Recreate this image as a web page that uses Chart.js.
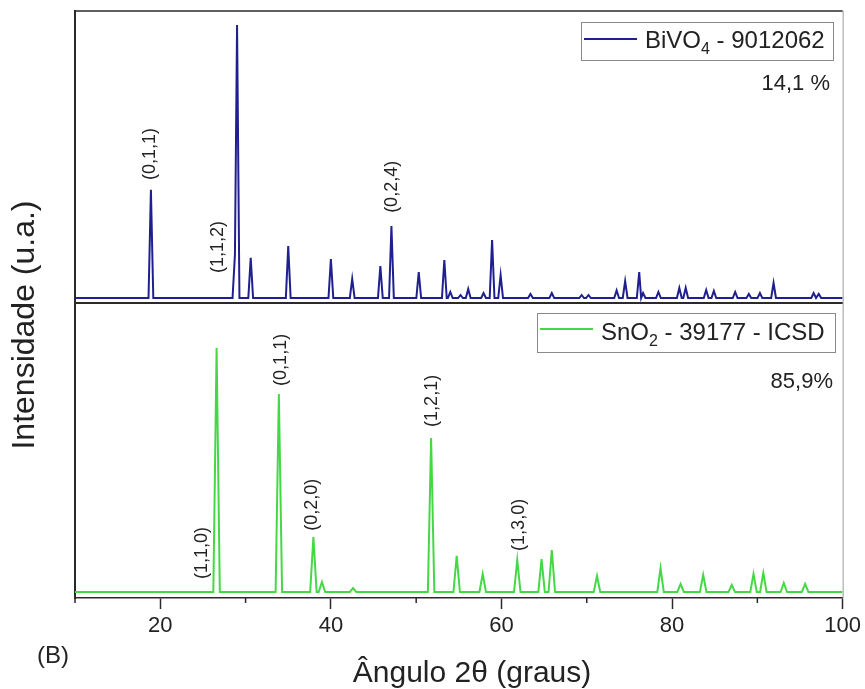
<!DOCTYPE html>
<html>
<head>
<meta charset="utf-8">
<script src="https://cdn.jsdelivr.net/npm/chart.js@4.4.1/dist/chart.umd.min.js"></script>
<style>
  html, body { margin: 0; padding: 0; background: #fff; }
</style>
</head>
<body>
<canvas id="xrdChart" width="865" height="689"></canvas>
<script>
// BiVO4 reference pattern (2theta, relative intensity)
const bivoPos = [18.9, 28.75, 29.0, 30.6, 35.0, 40.0, 42.5, 45.8, 47.1, 50.3, 53.3, 54.0, 55.2, 56.1, 57.9,
                 58.9, 59.9, 63.4, 65.9, 69.4, 70.2, 73.5, 74.5, 76.15, 76.6, 78.4, 80.85, 81.6, 84.0, 84.9,
                 87.4, 89.0, 90.3, 91.9, 96.6, 97.2];
const bivoInt = [39.6, 15.8, 100, 14.7, 19.0, 14.3, 7.0, 11.7, 26.4, 9.5, 13.9, 2.2, 1.1, 3.3, 1.8,
                 21.2, 8.4, 1.5, 1.8, 1.1, 1.1, 2.8, 6.2, 9.5, 1.8, 2.2, 3.7, 3.7, 2.9, 2.6,
                 2.2, 1.5, 1.8, 5.5, 1.8, 1.5];

// SnO2 reference pattern
const snoPos = [26.6, 33.9, 37.95, 38.95, 42.6, 51.75, 54.75, 57.8, 61.85, 64.7, 65.9, 71.2, 78.65, 81.0,
                83.65, 87.0, 89.55, 90.7, 93.1, 95.6];
const snoInt = [100, 81.1, 22.5, 4.1, 1.6, 63.1, 14.8, 7.4, 13.1, 13.5, 17.2, 6.6, 9.8, 3.3,
                7.0, 2.9, 7.4, 7.8, 3.7, 3.3];

// hkl labels: text, 2theta, intensity where the label is centred
const bivoHkl = ['(0,1,1)', '(1,1,2)', '(0,2,4)'];
const bivoHklAt = [[18.83, 52.7], [26.8, 18.7], [47.2, 40.7]];
const snoHkl = ['(1,1,0)', '(0,1,1)', '(0,2,0)', '(1,2,1)', '(1,3,0)'];
const snoHklAt = [[24.9, 16.0], [34.2, 95.1], [37.8, 35.7], [51.9, 78.3], [62.1, 27.5]];

const xMin = 10, xMax = 100;
const FONT = '"Liberation Sans", Arial, sans-serif';

// peaks closer than this are drawn as one peak with a shoulder
const mergeGap = 0.3;

function profile(pos, inten, hw) {
    const pts = [{x: xMin, y: 0}];
    pos.forEach((p, i) => {
        const gapL = i > 0 ? p - pos[i - 1] : Infinity;
        const gapR = i < pos.length - 1 ? pos[i + 1] - p : Infinity;
        if (gapL >= mergeGap) pts.push({x: p - Math.min(hw, gapL / 2), y: 0});
        pts.push({x: p, y: inten[i]});
        if (gapR >= mergeGap) pts.push({x: p + Math.min(hw, gapR / 2), y: 0});
    });
    pts.push({x: xMax, y: 0});
    return pts;
}

function drawSubText(ctx, x, y, parts) {
    // parts: [text, isSub]
    parts.forEach(([t, sub]) => {
        ctx.font = (sub ? '16px ' : '24px ') + FONT;
        ctx.fillText(t, x, sub ? y + 6 : y);
        x += ctx.measureText(t).width;
    });
}

const decorations = {
    id: 'decorations',
    afterDraw(chart) {
        const ctx = chart.ctx;
        const area = chart.chartArea;
        const xs = chart.scales.x, yt = chart.scales.yTop, yb = chart.scales.yBot;
        ctx.save();

        // frame
        ctx.strokeStyle = '#9a9a9a';
        ctx.lineWidth = 1;
        ctx.beginPath();
        ctx.moveTo(area.right + 0.5, area.top);
        ctx.lineTo(area.right + 0.5, area.bottom);
        ctx.stroke();
        ctx.strokeStyle = '#2a2a2a';
        ctx.lineWidth = 1.5;
        ctx.beginPath();
        ctx.moveTo(area.left, area.top);
        ctx.lineTo(area.right, area.top);
        ctx.stroke();
        ctx.lineWidth = 2;
        ctx.beginPath();
        ctx.moveTo(area.left, yt.bottom);
        ctx.lineTo(area.right, yt.bottom);
        ctx.stroke();

        // minor ticks
        ctx.lineWidth = 1.5;
        ctx.beginPath();
        xs.ticks.forEach(t => {
            if (t.value % 20 !== 0) {
                const px = xs.getPixelForValue(t.value);
                ctx.moveTo(px, area.bottom);
                ctx.lineTo(px, area.bottom + 5);
            }
        });
        ctx.stroke();

        // hkl labels
        ctx.fillStyle = '#222';
        ctx.font = '18px ' + FONT;
        ctx.textAlign = 'center';
        ctx.textBaseline = 'middle';
        const put = (labels, at, ys) => labels.forEach((l, i) => {
            ctx.save();
            ctx.translate(xs.getPixelForValue(at[i][0]), ys.getPixelForValue(at[i][1]));
            ctx.rotate(-Math.PI / 2);
            ctx.fillText(l, 0, 0);
            ctx.restore();
        });
        put(bivoHkl, bivoHklAt, yt);
        put(snoHkl, snoHklAt, yb);

        // legends
        ctx.textAlign = 'left';
        ctx.textBaseline = 'alphabetic';
        ctx.strokeStyle = '#8a8a8a';
        ctx.lineWidth = 1;
        ctx.strokeRect(581.5, 22.5, 252, 38);
        ctx.strokeRect(537.5, 313.5, 298, 39);
        ctx.lineWidth = 2;
        ctx.strokeStyle = chart.data.datasets[0].borderColor;
        ctx.beginPath(); ctx.moveTo(584, 39); ctx.lineTo(637, 39); ctx.stroke();
        ctx.strokeStyle = chart.data.datasets[1].borderColor;
        ctx.beginPath(); ctx.moveTo(540, 329); ctx.lineTo(593, 329); ctx.stroke();
        ctx.fillStyle = '#222';
        drawSubText(ctx, 645, 48, [['BiVO', false], ['4', true], [' - 9012062', false]]);
        drawSubText(ctx, 601, 340, [['SnO', false], ['2', true], [' - 39177 - ICSD', false]]);

        ctx.font = '22px ' + FONT;
        ctx.textAlign = 'right';
        ctx.fillText('14,1 %', 830, 90);
        ctx.fillText('85,9%', 833, 388);

        // axis titles and panel tag
        ctx.textAlign = 'center';
        ctx.font = '30px ' + FONT;
        ctx.fillText('Ângulo 2θ (graus)', 472, 682);
        ctx.save();
        ctx.translate(34, 325);
        ctx.rotate(-Math.PI / 2);
        ctx.font = '32px ' + FONT;
        ctx.fillText('Intensidade (u.a.)', 0, 0);
        ctx.restore();
        ctx.textAlign = 'left';
        ctx.font = '24px ' + FONT;
        ctx.fillText('(B)', 37, 663);

        ctx.restore();
    }
};

const yCommon = {
    type: 'linear',
    position: 'left',
    stack: 'xrd',
    ticks: {display: false},
    grid: {display: false},
    border: {display: true, color: '#2a2a2a', width: 2},
    afterFit: s => { s.width = 0; }
};

new Chart(document.getElementById('xrdChart').getContext('2d'), {
    type: 'line',
    data: {
        datasets: [
            {
                label: 'BiVO4 - 9012062',
                data: profile(bivoPos, bivoInt, 0.28),
                borderColor: '#1f1f8f',
                borderWidth: 2,
                pointRadius: 0,
                yAxisID: 'yTop'
            },
            {
                label: 'SnO2 - 39177 - ICSD',
                data: profile(snoPos, snoInt, 0.38),
                borderColor: '#45d845',
                borderWidth: 2,
                pointRadius: 0,
                yAxisID: 'yBot'
            }
        ]
    },
    options: {
        responsive: false,
        animation: false,
        devicePixelRatio: 1,
        layout: {padding: {left: 75, right: 22, top: 11, bottom: 0}},
        plugins: {legend: {display: false}, tooltip: {enabled: false}},
        scales: {
            x: {
                type: 'linear',
                min: xMin,
                max: xMax,
                ticks: {
                    stepSize: 10,
                    autoSkip: false,
                    maxRotation: 0,
                    padding: 4,
                    color: '#222',
                    font: {family: FONT, size: 22},
                    callback: v => (v % 20 === 0 ? v : '')
                },
                grid: {
                    drawOnChartArea: false,
                    drawTicks: true,
                    tickLength: 11,
                    tickWidth: 1.5,
                    tickColor: c => (c.tick && c.tick.value % 20 === 0) ? '#2a2a2a' : 'rgba(0,0,0,0)'
                },
                border: {color: '#2a2a2a', width: 1.5},
                afterFit: s => { s.height = 91; }
            },
            yBot: Object.assign({}, yCommon, {min: -2.46, max: 118.4, stackWeight: 295}),
            yTop: Object.assign({}, yCommon, {min: -1.83, max: 105.1, stackWeight: 292})
        }
    },
    plugins: [decorations]
});
</script>
</body>
</html>
